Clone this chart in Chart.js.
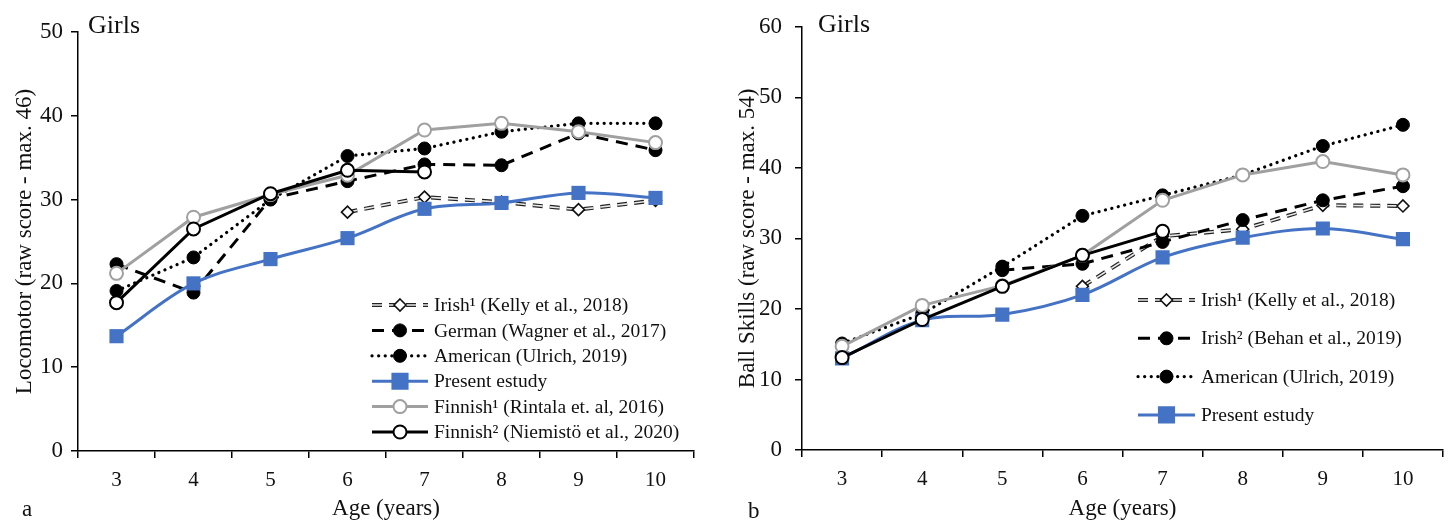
<!DOCTYPE html>
<html><head><meta charset="utf-8">
<script src="https://cdn.jsdelivr.net/npm/chart.js@4.4.0/dist/chart.umd.min.js"></script>
<style>
html,body{margin:0;padding:0;background:#fff;}
#wrap{position:relative;width:1453px;height:525px;}
.box{position:absolute;top:0;height:525px;}
#b1{left:0;width:720px;}
#b2{left:720px;width:733px;}
</style></head><body>
<div id="wrap"><div class="box" id="b1"><canvas id="c1"></canvas></div><div class="box" id="b2"><canvas id="c2"></canvas></div></div>
<script>
// ---------- DATA ----------
const ages = ['3','4','5','6','7','8','9','10'];
const locoMax = 50, ballMax = 60, yStep = 10;
// Panel a: Locomotor
const locoIrish1   = [null, null, null, 28.5, 30.3, 29.7, 28.8, 29.9];
const locoGerman   = [22.3, 18.9, 30.1, 32.2, 34.2, 34.1, 37.9, 35.9];
const locoAmerican = [19.1, 23.1, 30.0, 35.2, 36.1, 38.1, 39.1, 39.1];
const locoPresent  = [13.7, 20.0, 22.9, 25.4, 28.9, 29.6, 30.8, 30.2];
const locoFinnish1 = [21.2, 27.9, 30.6, 32.9, 38.3, 39.1, 38.1, 36.8];
const locoFinnish2 = [17.7, 26.5, 30.7, 33.5, 33.3, null, null, null];
// Panel b: Ball skills
const ballIrish1   = [null, null, null, 23.2, 30.3, 31.3, 34.7, 34.6];
const ballIrish2   = [null, null, 25.5, 26.4, 29.5, 32.6, 35.4, 37.4];
const ballAmerican = [15.1, 19.3, 26.0, 33.2, 36.1, 39.0, 43.1, 46.1];
const ballPresent  = [13.0, 18.4, 19.2, 22.0, 27.3, 30.1, 31.4, 29.9];
const ballFinnish1 = [14.7, 20.5, 23.3, 27.6, 35.4, 39.0, 40.9, 39.0];
const ballFinnish2 = [13.1, 18.5, 23.2, 27.6, 31.0, null, null, null];

const labelsA = {
  irish1: 'Irish\u00B9 (Kelly et al., 2018)',
  german: 'German (Wagner et al., 2017)',
  american: 'American (Ulrich, 2019)',
  present: 'Present estudy',
  finnish1: 'Finnish\u00B9 (Rintala et. al, 2016)',
  finnish2: 'Finnish\u00B2 (Niemist\u00F6 et al., 2020)'
};
const labelsB = {
  irish1: 'Irish\u00B9 (Kelly et al., 2018)',
  irish2: 'Irish\u00B2 (Behan et al., 2019)',
  american: 'American (Ulrich, 2019)',
  present: 'Present estudy'
};

// ---------- STYLES ----------
const SERIF = "'Liberation Serif', 'DejaVu Serif', serif";
const BLUE = '#4472C4', GREY = '#a0a0a0';

function irish1Sets(data, label){
  return [
    {label: label, data, borderColor:'#222', borderWidth:4, borderDash:[10,7], pointRadius:0, order:10, tension:0},
    {label: label+' inner', data, borderColor:'#e8e8e8', borderWidth:1.6, borderDash:[10,7], pointRadius:0, order:9, tension:0},
    {label: label+' pts', data, showLine:false, pointStyle:'rectRot', pointRadius:6, pointBackgroundColor:'#fff', pointBorderColor:'#111', pointBorderWidth:1.6, order:8}
  ];
}
function blackDash(data,label,order){
  return {label, data, borderColor:'#000', borderWidth:3, borderDash:[12,8], pointStyle:'circle', pointRadius:6.5, pointBackgroundColor:'#000', pointBorderColor:'#000', pointBorderWidth:1, order, tension:0};
}
function dotted(data,label,order){
  return {label, data, borderColor:'#000', borderWidth:3.2, borderDash:[0.1,6.5], borderCapStyle:'round', pointStyle:'circle', pointRadius:6.5, pointBackgroundColor:'#000', pointBorderColor:'#000', pointBorderWidth:1, order, tension:0};
}
function present(data,label,order){
  return {label, data, borderColor:BLUE, borderWidth:3, pointStyle:'rect', pointRadius:10, pointBackgroundColor:BLUE, pointBorderColor:BLUE, pointBorderWidth:0, order, tension:0.35};
}
function finn1(data,label,order){
  return {label, data, borderColor:GREY, borderWidth:3, pointStyle:'circle', pointRadius:6.5, pointBackgroundColor:'#fff', pointBorderColor:GREY, pointBorderWidth:2, order, tension:0};
}
function finn2(data,label,order){
  return {label, data, borderColor:'#000', borderWidth:3, pointStyle:'circle', pointRadius:6.5, pointBackgroundColor:'#fff', pointBorderColor:'#000', pointBorderWidth:2, order, tension:0};
}

// marker for custom legend
function drawMarker(ctx, ds, x, y){
  const r = ds.pointRadius;
  ctx.save();
  ctx.setLineDash([]);
  ctx.fillStyle = ds.pointBackgroundColor;
  ctx.strokeStyle = ds.pointBorderColor;
  ctx.lineWidth = ds.pointBorderWidth || 0;
  ctx.beginPath();
  if (ds.pointStyle === 'rect') {
    const s = r * Math.SQRT1_2;
    ctx.rect(x - s, y - s, 2*s, 2*s);
  } else if (ds.pointStyle === 'rectRot') {
    ctx.moveTo(x, y - r); ctx.lineTo(x + r, y); ctx.lineTo(x, y + r); ctx.lineTo(x - r, y); ctx.closePath();
  } else {
    ctx.arc(x, y, r, 0, Math.PI*2);
  }
  ctx.fill();
  if (ctx.lineWidth > 0) ctx.stroke();
  ctx.restore();
}

const customLegend = {
  id: 'customLegend',
  afterDraw(chart, args, opts) {
    const ctx = chart.ctx;
    ctx.save();
    opts.items.forEach((it, i) => {
      const y = opts.y0 + i * opts.dy;
      const x1 = opts.x, x2 = opts.x + opts.w;
      it.lines.forEach(di => {
        const ds = chart.data.datasets[di];
        ctx.beginPath();
        ctx.setLineDash(ds.borderDash || []);
        ctx.lineCap = ds.borderCapStyle || 'butt';
        ctx.strokeStyle = ds.borderColor;
        ctx.lineWidth = ds.borderWidth;
        ctx.moveTo(x1, y); ctx.lineTo(x2, y); ctx.stroke();
      });
      ctx.setLineDash([]);
      drawMarker(ctx, chart.data.datasets[it.point], (x1 + x2) / 2, y);
      ctx.fillStyle = '#111';
      ctx.font = opts.font;
      ctx.textBaseline = 'middle';
      ctx.textAlign = 'left';
      ctx.fillText(chart.data.datasets[it.point].label.replace(/ pts$/, ''), x2 + opts.gap, y + 1);
    });
    ctx.restore();
  }
};

const panelText = {
  id: 'panelText',
  afterDraw(chart, args, opts) {
    const ctx = chart.ctx;
    ctx.save();
    ctx.fillStyle = '#111';
    ctx.textBaseline = 'middle';
    ctx.textAlign = 'left';
    opts.texts.forEach(t => { ctx.font = t.font; ctx.fillText(t.text, t.x, t.y); });
    ctx.restore();
  }
};

function makeOptions(cfg){
  const axisLine = {display:true, color:'#000', width:1.5};
  return {
    responsive:true, maintainAspectRatio:false, animation:false,
    layout:{padding:{top:cfg.padTop, right:cfg.padRight, left:0, bottom:0}},
    plugins:{
      legend:{display:false}, tooltip:{enabled:false},
      customLegend: cfg.legend,
      panelText: {texts: cfg.texts}
    },
    scales:{
      x:{
        offset:true,
        grid:{display:true, offset:true, drawOnChartArea:false, drawTicks:true, tickLength:7, color:'#000', lineWidth:1.5},
        border:axisLine,
        ticks:{color:'#111', font:{family:SERIF, size:21}, padding:10, maxRotation:0},
        title:{display:true, text:'Age (years)', color:'#111', font:{family:SERIF, size:23}, padding:{top:0, bottom:2}},
        afterFit(s){ s.height = cfg.xHeight; }
      },
      y:{
        min:0, max:cfg.yMax,
        grid:{display:true, drawOnChartArea:false, drawTicks:true, tickLength:7, color:'#000', lineWidth:1.5},
        border:axisLine,
        ticks:{stepSize:yStep, color:'#111', font:{family:SERIF, size:23}, padding:cfg.tickPad},
        title:{display:true, text:cfg.yTitle, color:'#111', font:{family:SERIF, size:23}, padding:{top:cfg.titlePad, bottom:0}},
        afterFit(s){ s.width = cfg.yWidth; }
      }
    }
  };
}

// ---------- CHART A ----------
const dsA = [
  ...irish1Sets(locoIrish1, labelsA.irish1),          // 0,1,2
  blackDash(locoGerman, labelsA.german, 7),          // 3
  dotted(locoAmerican, labelsA.american, 6),         // 4
  present(locoPresent, labelsA.present, 5),          // 5
  finn1(locoFinnish1, labelsA.finnish1, 4),          // 6
  finn2(locoFinnish2, labelsA.finnish2, 3)           // 7
];
new Chart(document.getElementById('c1'), {
  type:'line',
  data:{labels:ages, datasets:dsA},
  options: makeOptions({
    padTop:32, padRight:26, xHeight:74, yWidth:78, yMax:locoMax, tickPad:8, titlePad:11,
    yTitle:'Locomotor (raw score - max. 46)',
    legend:{x:372, w:56, gap:6, y0:305, dy:25.4, font:'19.5px '+SERIF,
      items:[{lines:[0,1],point:2},{lines:[3],point:3},{lines:[4],point:4},{lines:[5],point:5},{lines:[6],point:6},{lines:[7],point:7}]},
    texts:[{text:'Girls', x:88, y:26, font:'26px '+SERIF},{text:'a', x:22, y:510, font:'23px '+SERIF}]
  }),
  plugins:[customLegend, panelText]
});

// ---------- CHART B ----------
const dsB = [
  ...irish1Sets(ballIrish1, labelsB.irish1),          // 0,1,2
  blackDash(ballIrish2, labelsB.irish2, 7),          // 3
  dotted(ballAmerican, labelsB.american, 6),         // 4
  present(ballPresent, labelsB.present, 5),          // 5
  finn1(ballFinnish1, 'Finnish\u00B9', 4),            // 6
  finn2(ballFinnish2, 'Finnish\u00B2', 3)             // 7
];
new Chart(document.getElementById('c2'), {
  type:'line',
  data:{labels:ages, datasets:dsB},
  options: makeOptions({
    padTop:23, padRight:4, xHeight:75, yWidth:82, yMax:ballMax, tickPad:13, titlePad:14,
    yTitle:'Ball Skills (raw score - max. 54)',
    legend:{x:418, w:57, gap:6, y0:300, dy:38.3, font:'19.5px '+SERIF,
      items:[{lines:[0,1],point:2},{lines:[3],point:3},{lines:[4],point:4},{lines:[5],point:5}]},
    texts:[{text:'Girls', x:98, y:25, font:'26px '+SERIF},{text:'b', x:28, y:512, font:'23px '+SERIF}]
  }),
  plugins:[customLegend, panelText]
});
</script>
</body></html>
